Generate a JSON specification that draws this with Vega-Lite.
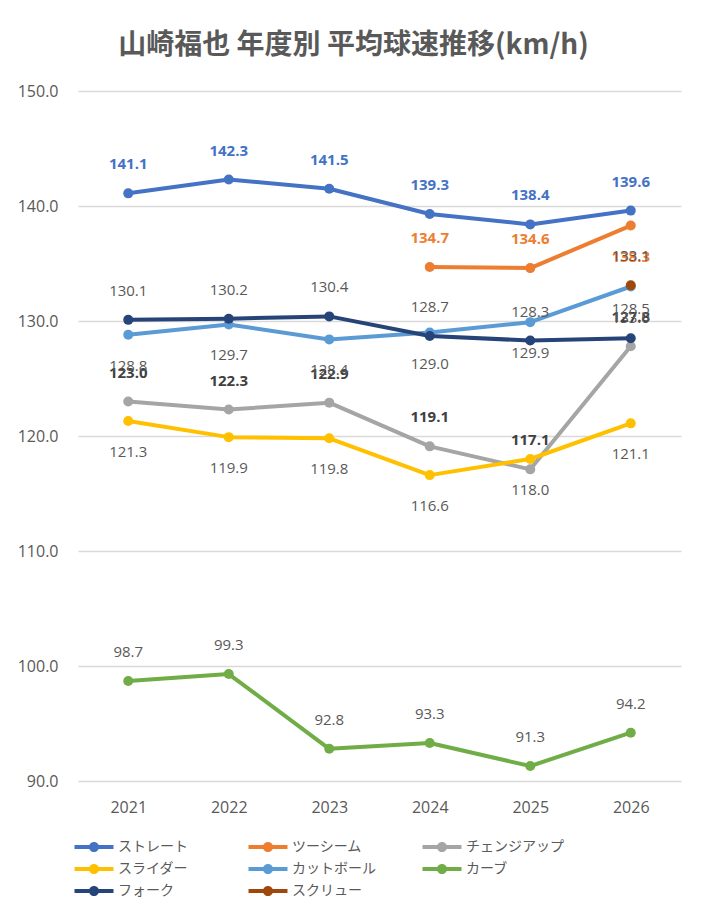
{
  "$schema": "https://vega.github.io/schema/vega-lite/v6.json",
  "autosize": "none",
  "width": 603,
  "height": 690,
  "padding": {"left": 78, "top": 91, "right": 24, "bottom": 122},
  "config": {"view": {"stroke": null}},
  "title": {
    "text": "山崎福也 年度別 平均球速推移(km/h)",
    "fontSize": 28,
    "fontWeight": "bold",
    "color": "#595959",
    "font": "Noto Sans CJK JP",
    "anchor": "middle",
    "dx": -26,
    "offset": 23
  },
  "data": {
    "values": [
      {"year": 2021, "series": "ストレート", "value": 141.1},
      {"year": 2022, "series": "ストレート", "value": 142.3},
      {"year": 2023, "series": "ストレート", "value": 141.5},
      {"year": 2024, "series": "ストレート", "value": 139.3},
      {"year": 2025, "series": "ストレート", "value": 138.4},
      {"year": 2026, "series": "ストレート", "value": 139.6},
      {"year": 2024, "series": "ツーシーム", "value": 134.7},
      {"year": 2025, "series": "ツーシーム", "value": 134.6},
      {"year": 2026, "series": "ツーシーム", "value": 138.3},
      {"year": 2021, "series": "チェンジアップ", "value": 123.0},
      {"year": 2022, "series": "チェンジアップ", "value": 122.3},
      {"year": 2023, "series": "チェンジアップ", "value": 122.9},
      {"year": 2024, "series": "チェンジアップ", "value": 119.1},
      {"year": 2025, "series": "チェンジアップ", "value": 117.1},
      {"year": 2026, "series": "チェンジアップ", "value": 127.8},
      {"year": 2021, "series": "スライダー", "value": 121.3},
      {"year": 2022, "series": "スライダー", "value": 119.9},
      {"year": 2023, "series": "スライダー", "value": 119.8},
      {"year": 2024, "series": "スライダー", "value": 116.6},
      {"year": 2025, "series": "スライダー", "value": 118.0},
      {"year": 2026, "series": "スライダー", "value": 121.1},
      {"year": 2021, "series": "カットボール", "value": 128.8},
      {"year": 2022, "series": "カットボール", "value": 129.7},
      {"year": 2023, "series": "カットボール", "value": 128.4},
      {"year": 2024, "series": "カットボール", "value": 129.0},
      {"year": 2025, "series": "カットボール", "value": 129.9},
      {"year": 2026, "series": "カットボール", "value": 133.0},
      {"year": 2021, "series": "カーブ", "value": 98.7},
      {"year": 2022, "series": "カーブ", "value": 99.3},
      {"year": 2023, "series": "カーブ", "value": 92.8},
      {"year": 2024, "series": "カーブ", "value": 93.3},
      {"year": 2025, "series": "カーブ", "value": 91.3},
      {"year": 2026, "series": "カーブ", "value": 94.2},
      {"year": 2021, "series": "フォーク", "value": 130.1},
      {"year": 2022, "series": "フォーク", "value": 130.2},
      {"year": 2023, "series": "フォーク", "value": 130.4},
      {"year": 2024, "series": "フォーク", "value": 128.7},
      {"year": 2025, "series": "フォーク", "value": 128.3},
      {"year": 2026, "series": "フォーク", "value": 128.5},
      {"year": 2026, "series": "スクリュー", "value": 133.1}
    ]
  },
  "encoding": {
    "x": {
      "field": "year",
      "type": "ordinal",
      "scale": {"type": "point", "padding": 0.5},
      "axis": {
        "title": null,
        "labelAngle": 0,
        "domain": false,
        "ticks": false,
        "grid": false,
        "labelFontSize": 16,
        "labelColor": "#595959",
        "labelFont": "Open Sans",
        "labelPadding": 18
      }
    },
    "y": {
      "field": "value",
      "type": "quantitative",
      "scale": {"domain": [90, 150], "nice": false, "zero": false},
      "axis": {
        "title": null,
        "values": [90, 100, 110, 120, 130, 140, 150],
        "format": ".1f",
        "domain": false,
        "ticks": false,
        "gridColor": "#D9D9D9",
        "gridWidth": 1.3,
        "labelFontSize": 16,
        "labelColor": "#595959",
        "labelFont": "Open Sans",
        "labelPadding": 20
      }
    }
  },
  "layer": [
    {
      "mark": {"type": "line", "strokeWidth": 4, "strokeCap": "round", "strokeJoin": "round"},
      "encoding": {
        "color": {
          "field": "series",
          "type": "nominal",
          "scale": {
            "domain": ["ストレート", "ツーシーム", "チェンジアップ", "スライダー", "カットボール", "カーブ", "フォーク", "スクリュー"],
            "range": ["#4472C4", "#ED7D31", "#A5A5A5", "#FFC000", "#5B9BD5", "#70AD47", "#264478", "#9E480E"]
          },
          "legend": {
            "title": null,
            "orient": "none",
            "legendX": 6,
            "legendY": 746,
            "direction": "horizontal",
            "columns": 3,
            "gridAlign": "all",
            "columnPadding": 32,
            "rowPadding": 5,
            "padding": 0,
            "symbolType": "M-2,-0.2 H2 V0.2 H-2 Z M0.52,0 A0.52,0.52 0 1 1 -0.52,0 A0.52,0.52 0 1 1 0.52,0 Z",
            "symbolSize": 380,
            "symbolStrokeWidth": 0,
            "labelOffset": 14,
            "labelFontSize": 14,
            "labelColor": "#595959",
            "labelFont": "Noto Sans CJK JP",
            "encode": {
              "symbols": {
                "update": {
                  "fill": {"scale": "color", "field": "value"},
                  "fillOpacity": {"value": 1},
                  "strokeWidth": {"value": 0}
                }
              }
            }
          }
        }
      }
    },
    {
      "mark": {"type": "circle", "size": 100, "opacity": 1},
      "encoding": {
        "color": {"field": "series", "type": "nominal", "legend": null}
      }
    },
    {
      "transform": [
        {"filter": "(datum.series === 'ストレート' || datum.series === 'ツーシーム' || datum.series === 'チェンジアップ') && !(datum.series === 'ツーシーム' && datum.year === 2026)"}
      ],
      "mark": {"type": "text", "dy": -29, "fontSize": 15, "fontWeight": "bold", "font": "Open Sans", "baseline": "middle"},
      "encoding": {
        "text": {"field": "value", "type": "quantitative", "format": ".1f"},
        "color": {
          "condition": [
            {"test": "datum.series === 'ストレート'", "value": "#4472C4"},
            {"test": "datum.series === 'ツーシーム'", "value": "#ED7D31"}
          ],
          "value": "#404040"
        }
      }
    },
    {
      "transform": [
        {"filter": "datum.series === 'ツーシーム' && datum.year === 2026"}
      ],
      "mark": {"type": "text", "dy": 31, "fontSize": 15, "fontWeight": "bold", "font": "Open Sans", "baseline": "middle", "color": "#ED7D31"},
      "encoding": {
        "text": {"field": "value", "type": "quantitative", "format": ".1f"}
      }
    },
    {
      "transform": [
        {"filter": {"field": "series", "oneOf": ["フォーク", "カーブ", "スクリュー"]}}
      ],
      "mark": {"type": "text", "dy": -29, "fontSize": 15, "font": "Open Sans", "baseline": "middle", "color": "#595959"},
      "encoding": {
        "text": {"field": "value", "type": "quantitative", "format": ".1f"}
      }
    },
    {
      "transform": [
        {"filter": {"field": "series", "oneOf": ["スライダー", "カットボール"]}}
      ],
      "mark": {"type": "text", "dy": 31, "fontSize": 15, "font": "Open Sans", "baseline": "middle", "color": "#595959"},
      "encoding": {
        "text": {"field": "value", "type": "quantitative", "format": ".1f"}
      }
    }
  ]
}
